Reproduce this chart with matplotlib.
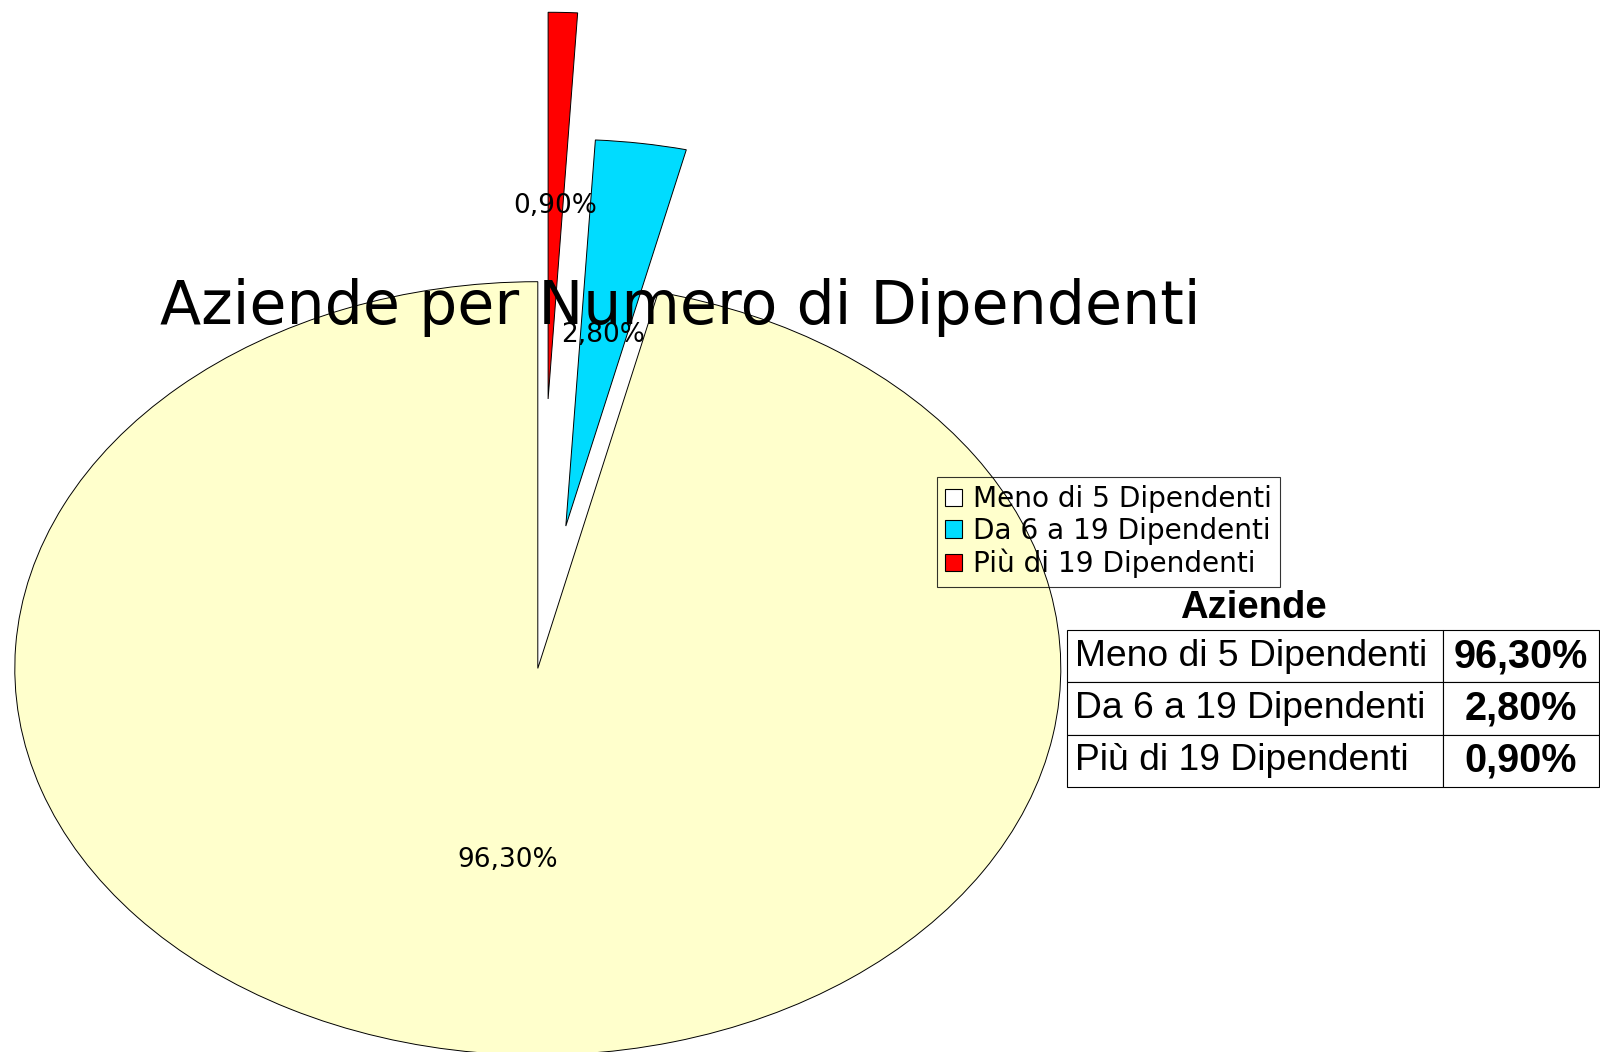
import matplotlib
matplotlib.use('Agg')
import matplotlib.pyplot as plt
from matplotlib.patches import Patch

categories = ['Meno di 5 Dipendenti', 'Da 6 a 19 Dipendenti', 'Più di 19 Dipendenti']
values = [96.3, 2.8, 0.9]
value_labels = ['96,30%', '2,80%', '0,90%']
title = 'Aziende per Numero di Dipendenti'
table_title = 'Aziende'

slice_colors = ['#FFFFCC', '#00DCFF', '#FF0000']
legend_colors = ['#FFFFFF', '#00DCFF', '#FF0000']
explode = [0.0, 0.372, 0.697]

W, H = 1600, 1052
fig = plt.figure(figsize=(16, 10.52), dpi=100)
ax = fig.add_axes([0, 0, 1, 1])
cx, cy, rx, ry = 537.8, 668.4, 523.0, 386.7

wedges, texts, autotexts = ax.pie(
    values, explode=explode, colors=slice_colors, startangle=90, counterclock=True,
    autopct=lambda p: f'{p:.2f}%'.replace('.', ','), pctdistance=0.5,
    wedgeprops=dict(edgecolor='black', linewidth=0.7),
    textprops=dict(fontsize=19, family='DejaVu Sans', color='black'))
ax.set_aspect('auto')
ax.set_xlim(-cx / rx, (W - cx) / rx)
ax.set_ylim(-(H - cy) / ry, cy / ry)
ax.axis('off')

fig.text(680 / W, 1 - 324 / H, title, ha='center', va='baseline',
         fontsize=43.3, family='DejaVu Sans', zorder=5)

handles = [Patch(facecolor=c, edgecolor='black', linewidth=0.8) for c in legend_colors]
leg = fig.legend(handles, categories, loc='upper left',
                 bbox_to_anchor=(937 / W, 1 - 477 / H), bbox_transform=fig.transFigure,
                 frameon=True, fancybox=False, edgecolor='black', facecolor='none',
                 prop=dict(family='DejaVu Sans', size=20.2),
                 handlelength=0.58, handleheight=0.58, handletextpad=0.4,
                 borderpad=0.3, labelspacing=0.13, borderaxespad=0)
leg.get_frame().set_linewidth(0.8)

tx0, tx1, ty0, ty1, tdiv = 1067, 1599, 630, 787, 1443
tbl = ax.table(cellText=[[c, v] for c, v in zip(categories, value_labels)],
               cellLoc='left',
               colWidths=[(tdiv - tx0) / (tx1 - tx0), (tx1 - tdiv) / (tx1 - tx0)],
               bbox=[tx0 / W, 1 - ty1 / H, (tx1 - tx0) / W, (ty1 - ty0) / H])
tbl.auto_set_font_size(False)
for (r, c), cell in tbl.get_celld().items():
    cell.set_edgecolor('black')
    cell.set_linewidth(0.8)
    cell.set_facecolor('white')
    if c == 0:
        cell.PAD = 0.02
        cell.set_text_props(ha='left', fontsize=26.8, family='Liberation Sans')
    else:
        cell.set_text_props(ha='center', fontsize=28.5, fontweight='bold',
                            family='Liberation Sans')

fig.text(1253 / W, 1 - 608 / H, table_title, ha='center', va='center',
         fontsize=27.5, fontweight='bold', family='Liberation Sans')

fig.savefig('out.png', dpi=100, facecolor='white')
